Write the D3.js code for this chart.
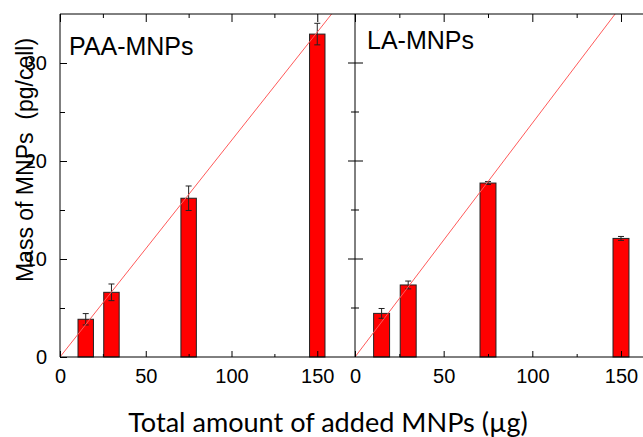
<!DOCTYPE html>
<html>
<head>
<meta charset="utf-8">
<script src="https://cdn.jsdelivr.net/npm/d3@7"></script>
<style>
  body { margin: 0; background: #fff; }
  svg { display: block; }
  text { font-family: "Liberation Sans", Arial, sans-serif; fill: #000; }
</style>
</head>
<body>
<script>
(function (d3) {
    'use strict';

    // data
    var doses = [15, 30, 75, 150];
    var paaMass = [3.85, 6.6, 16.2, 32.95];
    var paaErr = [0.58, 0.85, 1.25, 1.1];
    var laMass = [4.45, 7.35, 17.75, 12.1];
    var laErr = [0.5, 0.4, 0.15, 0.2];
    var fitSlope = [0.221, 0.2386];
    var panelNames = ['PAA-MNPs', 'LA-MNPs'];
    var xTicks = [0, 50, 100, 150];
    var xMinor = [25, 75, 125];
    var yTicks = [0, 10, 20, 30];
    var yMinor = [5, 15, 25];

    var width = 643, height = 437;
    var svg = d3.select('body').append('svg')
        .attr('width', width)
        .attr('height', height);

    var top = 14, bottom = 357;
    var barW = 9;

    var y = d3.scaleLinear().domain([0, 35]).range([bottom, top]);

    var panels = [
        { name: panelNames[0], mass: paaMass, err: paaErr, slope: fitSlope[0],
          x: d3.scaleLinear().domain([0, 172]).range([60, 355]), labelY: 55 },
        { name: panelNames[1], mass: laMass, err: laErr, slope: fitSlope[1],
          x: d3.scaleLinear().domain([0, 172]).range([355, 660]), labelY: 49 }
    ];

    panels.forEach(function (p, i) {
        var x = p.x;
        var g = svg.append('g');

        var clipId = 'clip' + i;
        svg.append('clipPath').attr('id', clipId)
            .append('rect')
            .attr('x', x.range()[0]).attr('y', top)
            .attr('width', x.range()[1] - x.range()[0])
            .attr('height', bottom - top);

        // bars
        g.selectAll('rect.bar').data(doses)
            .enter().append('rect')
            .attr('class', 'bar')
            .attr('x', function (d) { return x(d - barW / 2); })
            .attr('width', function (d) { return x(d + barW / 2) - x(d - barW / 2); })
            .attr('y', function (d, j) { return y(p.mass[j]); })
            .attr('height', function (d, j) { return bottom - y(p.mass[j]); })
            .style('fill', '#ff0000')
            .style('stroke', '#222')
            .style('stroke-width', 1);

        // error bars
        var eb = g.selectAll('g.err').data(doses).enter().append('g')
            .style('stroke', '#222').style('stroke-width', 1);
        eb.append('line')
            .attr('x1', function (d) { return x(d); })
            .attr('x2', function (d) { return x(d); })
            .attr('y1', function (d, j) { return y(p.mass[j] - p.err[j]); })
            .attr('y2', function (d, j) { return y(p.mass[j] + p.err[j]); });
        [-1, 1].forEach(function (s) {
            eb.append('line')
                .attr('x1', function (d) { return x(d) - 3; })
                .attr('x2', function (d) { return x(d) + 3; })
                .attr('y1', function (d, j) { return y(p.mass[j] + s * p.err[j]); })
                .attr('y2', function (d, j) { return y(p.mass[j] + s * p.err[j]); });
        });

        // fitted line through origin
        var xEnd = 35 / p.slope;
        g.append('line')
            .attr('clip-path', 'url(#' + clipId + ')')
            .attr('x1', x(0)).attr('y1', y(0))
            .attr('x2', x(xEnd)).attr('y2', y(35))
            .style('stroke', '#ff5a5a')
            .style('stroke-width', 1);

        // frame: top and bottom
        g.append('line').attr('x1', x.range()[0]).attr('x2', x.range()[1])
            .attr('y1', top).attr('y2', top).style('stroke', '#000');
        g.append('line').attr('x1', x.range()[0]).attr('x2', x.range()[1])
            .attr('y1', bottom).attr('y2', bottom).style('stroke', '#000');

        // x ticks, pointing inwards
        var tickStyle = function (sel) {
            sel.select('.domain').remove();
            sel.selectAll('line').style('stroke', '#000');
        };
        g.append('g').attr('transform', 'translate(0,' + bottom + ')')
            .call(d3.axisBottom(x).tickValues(xTicks).tickSizeInner(-6).tickPadding(12))
            .call(tickStyle)
            .selectAll('text')
            .style('font-size', '20px')
            .style('font-family', '"Liberation Sans", Arial, sans-serif');
        g.append('g').attr('transform', 'translate(0,' + bottom + ')')
            .call(d3.axisBottom(x).tickValues(xMinor).tickSizeInner(-3).tickFormat(''))
            .call(tickStyle);
        g.append('g').attr('transform', 'translate(0,' + top + ')')
            .call(d3.axisTop(x).tickValues(xTicks).tickSizeInner(-8).tickFormat(''))
            .call(tickStyle);
        g.append('g').attr('transform', 'translate(0,' + top + ')')
            .call(d3.axisTop(x).tickValues(xMinor).tickSizeInner(-4).tickFormat(''))
            .call(tickStyle);

        // panel title
        g.append('text')
            .attr('x', x.range()[0] + (i === 0 ? 9 : 12))
            .attr('y', p.labelY)
            .style('font-size', '25px')
            .text(p.name);
    });

    // y axis on the left
    var xl = 60;
    svg.append('line').attr('x1', xl).attr('x2', xl).attr('y1', top).attr('y2', bottom)
        .style('stroke', '#000');
    var yAxis = svg.append('g').attr('transform', 'translate(' + xl + ',0)')
        .call(d3.axisLeft(y).tickValues(yTicks).tickSizeInner(-7).tickPadding(13));
    yAxis.select('.domain').remove();
    yAxis.selectAll('line').style('stroke', '#000');
    yAxis.selectAll('text').style('font-size', '20px')
        .style('font-family', '"Liberation Sans", Arial, sans-serif');
    var yMin = svg.append('g').attr('transform', 'translate(' + xl + ',0)')
        .call(d3.axisLeft(y).tickValues(yMinor).tickSizeInner(-5).tickFormat(''));
    yMin.select('.domain').remove();
    yMin.selectAll('line').style('stroke', '#000');

    // shared middle axis with ticks crossing it
    var xm = 355;
    svg.append('line').attr('x1', xm).attr('x2', xm).attr('y1', top).attr('y2', bottom)
        .style('stroke', '#000');
    var mid = svg.append('g').attr('transform', 'translate(' + xm + ',0)');
    mid.selectAll('line.maj').data(yTicks.slice(1)).enter().append('line')
        .attr('x1', -7).attr('x2', 8)
        .attr('y1', function (d) { return y(d); }).attr('y2', function (d) { return y(d); })
        .style('stroke', '#000');
    mid.selectAll('line.min').data(yMinor).enter().append('line')
        .attr('x1', -4).attr('x2', 4)
        .attr('y1', function (d) { return y(d); }).attr('y2', function (d) { return y(d); })
        .style('stroke', '#000');

    // axis titles
    svg.append('text')
        .attr('transform', 'translate(33,160) rotate(-90)')
        .attr('text-anchor', 'middle')
        .style('font-size', '23px')
        .style('white-space', 'pre')
        .text('Mass of MNPs  (pg/cell)');

    var xt = svg.append('text')
        .attr('x', 328).attr('y', 432)
        .attr('text-anchor', 'middle')
        .style('font-family', 'Lato, "Open Sans", sans-serif')
        .style('font-size', '26px')
        .text('Total amount of added MNPs (\u00b5g)');
    // fit the title to the width it has in the picture
    var w = xt.node().getComputedTextLength();
    xt.style('font-size', (26 * 400 / w) + 'px');

})(d3);
</script>
</body>
</html>
